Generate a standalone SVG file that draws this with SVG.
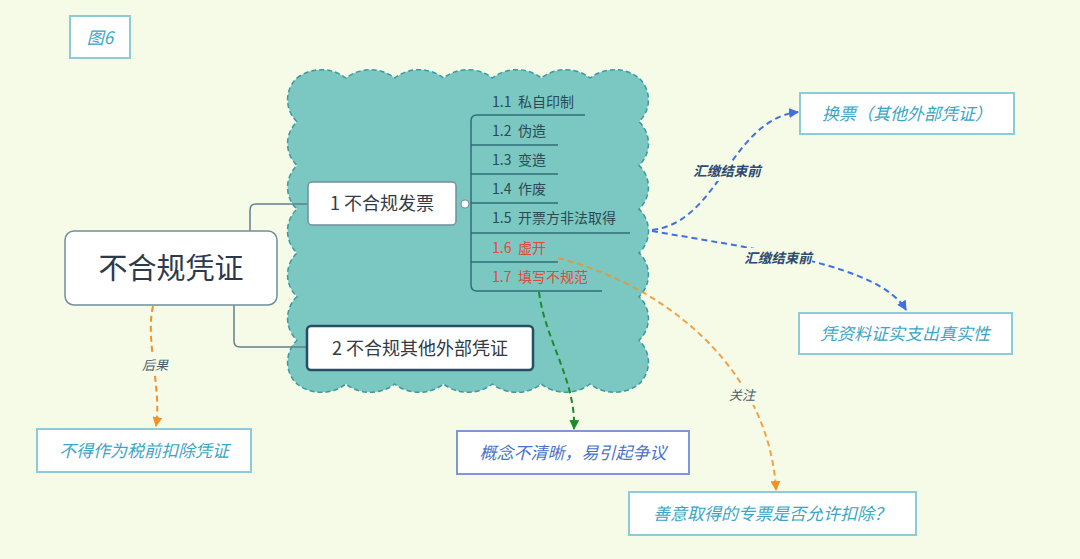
<svg xmlns="http://www.w3.org/2000/svg" width="1080" height="559" viewBox="0 0 1080 559">
<style>
text{font-family:"Noto Sans CJK SC","Liberation Sans",sans-serif}
.box{fill:#ffffff;stroke:#8ccbd8;stroke-width:2}
.it{font-style:italic;fill:#3aa6c6;font-size:17px}
.lbl{font-style:italic;font-size:13.5px;font-weight:bold;fill:#2c4a72}
.lbl2{font-style:italic;font-size:13px;fill:#4a5a6a}
.sub{font-size:14px;fill:#2c4a55}
.red{fill:#e0483a}
.tl{fill:none;stroke:#2f6f7a;stroke-width:1.5}
.bl{fill:none;stroke:#3f6fe0;stroke-width:2;stroke-dasharray:6 4}
.or{fill:none;stroke:#f0922a;stroke-width:2;stroke-dasharray:6 4}
.gr{fill:none;stroke:#1f8a2a;stroke-width:2;stroke-dasharray:6 4}
.cn{fill:none;stroke:#5f808c;stroke-width:1.5}
</style>
<defs>
<marker id="ab" viewBox="0 0 10 10" refX="9" refY="5" markerWidth="5" markerHeight="5" orient="auto"><path d="M0,0L10,5L0,10z" fill="#3f6fe0"/></marker>
<marker id="ao" viewBox="0 0 10 10" refX="9" refY="5" markerWidth="5" markerHeight="5" orient="auto"><path d="M0,0L10,5L0,10z" fill="#f0922a"/></marker>
<marker id="ag" viewBox="0 0 10 10" refX="9" refY="5" markerWidth="5" markerHeight="5" orient="auto"><path d="M0,0L10,5L0,10z" fill="#1f8a2a"/></marker>
</defs>
<rect width="1080" height="559" fill="#f5fbe6"/>

<g id="fig-label">
<rect x="70" y="16" width="60" height="42" class="box" stroke-width="1.5"/>
<text x="100" y="44" text-anchor="middle" class="it" font-size="18">图6</text>
</g>

<g id="cloud">
<path d="M297,78 A40,40 0 0 1 345.9,78 A40,40 0 0 1 394.7,78 A40,40 0 0 1 443.6,78 A40,40 0 0 1 492.4,78 A40,40 0 0 1 541.3,78 A40,40 0 0 1 590.1,78 A40,40 0 0 1 639,78
A30,30 0 0 1 639,121.7 A30,30 0 0 1 639,165.4 A30,30 0 0 1 639,209.1 A30,30 0 0 1 639,252.9 A30,30 0 0 1 639,296.6 A30,30 0 0 1 639,340.3 A30,30 0 0 1 639,384
A40,40 0 0 1 590.1,384 A40,40 0 0 1 541.3,384 A40,40 0 0 1 492.4,384 A40,40 0 0 1 443.6,384 A40,40 0 0 1 394.7,384 A40,40 0 0 1 345.9,384 A40,40 0 0 1 297,384
A30,30 0 0 1 297,340.3 A30,30 0 0 1 297,296.6 A30,30 0 0 1 297,252.9 A30,30 0 0 1 297,209.1 A30,30 0 0 1 297,165.4 A30,30 0 0 1 297,121.7 A30,30 0 0 1 297,78 Z" fill="#7ac8c1" stroke="#3a9aa0" stroke-width="1.5" stroke-dasharray="5 3"/>
</g>

<g id="connectors">
<path class="cn" d="M250,231 V210 Q250,204 256,204 H308"/>
<path class="cn" d="M234,305 V341 Q234,347 240,347 H307"/>
<path class="tl" d="M585,115 H477 Q471,115 471,121 V285 Q471,291 477,291 H602"/>
<path class="tl" d="M471,145 H558 M471,174 H558 M471,203 H558 M471,233 H630 M471,262 H558"/>
<path class="bl" d="M652,230 C720,222 730,120 798,112" marker-end="url(#ab)"/>
<path class="bl" d="M652,231 C760,250 880,265 906,310" marker-end="url(#ab)"/>
<path class="or" d="M153,306 C145,340 162,390 156,426" marker-end="url(#ao)"/>
<path class="gr" d="M539,292 C545,340 576,380 574,429" marker-end="url(#ag)"/>
<path class="or" d="M558,258 C680,290 770,380 776,490" marker-end="url(#ao)" stroke-opacity="0.85"/>
<rect x="694" y="161" width="66" height="20" fill="#f5fbe6"/>
<text x="727" y="176" text-anchor="middle" class="lbl">汇缴结束前</text>
<rect x="744" y="248" width="68" height="20" fill="#f5fbe6"/>
<text x="778" y="263" text-anchor="middle" class="lbl">汇缴结束前</text>
<rect x="140" y="355" width="30" height="20" fill="#f5fbe6"/>
<text x="155" y="370" text-anchor="middle" class="lbl2">后果</text>
<rect x="726" y="385" width="32" height="20" fill="#f5fbe6"/>
<text x="742" y="400" text-anchor="middle" class="lbl2">关注</text>
</g>

<g id="root">
<rect x="65" y="231" width="212" height="74" rx="9" fill="#ffffff" stroke="#6f8f9c" stroke-width="1.5"/>
<text x="171" y="279" text-anchor="middle" font-size="29" fill="#2c3a4c">不合规凭证</text>
</g>

<g id="node1">
<rect x="308" y="182" width="148" height="43" rx="4" fill="#ffffff" stroke="#6f8f9c" stroke-width="1.5"/>
<text x="382" y="210" text-anchor="middle" font-size="18" fill="#333a44">1 不合规发票</text>
<circle cx="465" cy="204" r="4" fill="#ffffff" stroke="#6f8f9c" stroke-width="1.2"/>
</g>

<g id="node2">
<rect x="307" y="326" width="226" height="44" rx="4" fill="#ffffff" stroke="#264e66" stroke-width="2.5"/>
<text x="420" y="355" text-anchor="middle" font-size="18" fill="#333a44">2 不合规其他外部凭证</text>
</g>

<g id="sub1-1"><text y="107" class="sub"><tspan x="492">1.1</tspan><tspan x="518">私自印制</tspan></text></g>
<g id="sub1-2"><text y="136" class="sub"><tspan x="492">1.2</tspan><tspan x="518">伪造</tspan></text></g>
<g id="sub1-3"><text y="165" class="sub"><tspan x="492">1.3</tspan><tspan x="518">变造</tspan></text></g>
<g id="sub1-4"><text y="194" class="sub"><tspan x="492">1.4</tspan><tspan x="518">作废</tspan></text></g>
<g id="sub1-5"><text y="223" class="sub"><tspan x="492">1.5</tspan><tspan x="518">开票方非法取得</tspan></text></g>
<g id="sub1-6"><text y="253" class="sub red"><tspan x="492">1.6</tspan><tspan x="518">虚开</tspan></text></g>
<g id="sub1-7"><text y="282" class="sub red"><tspan x="492">1.7</tspan><tspan x="518">填写不规范</tspan></text></g>

<g id="n-huanpiao">
<rect x="800" y="93" width="214" height="41" class="box"/>
<text x="907" y="120" text-anchor="middle" class="it">换票（其他外部凭证）</text>
</g>
<g id="n-pingziliao">
<rect x="799" y="313" width="213" height="41" class="box"/>
<text x="905" y="340" text-anchor="middle" class="it">凭资料证实支出真实性</text>
</g>
<g id="n-budezuowei">
<rect x="37" y="429" width="214" height="43" class="box"/>
<text x="144" y="457" text-anchor="middle" class="it">不得作为税前扣除凭证</text>
</g>
<g id="n-gainian">
<rect x="457" y="431" width="232" height="43" fill="#ffffff" stroke="#7f96d8" stroke-width="2"/>
<text x="573" y="459" text-anchor="middle" class="it" style="fill:#4a72c8">概念不清晰，易引起争议</text>
</g>
<g id="n-shanyi">
<rect x="629" y="492" width="287" height="43" class="box"/>
<text x="772" y="520" text-anchor="middle" class="it">善意取得的专票是否允许扣除？</text>
</g>
</svg>
